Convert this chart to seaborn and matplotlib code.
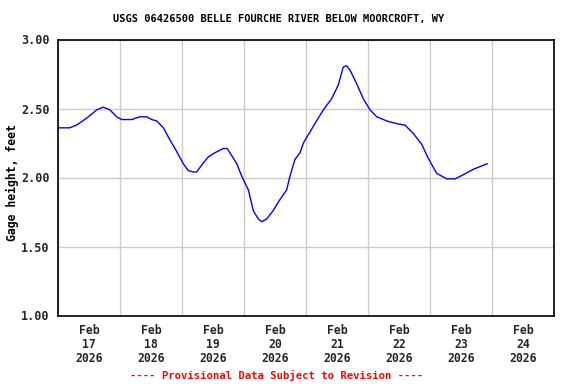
import numpy as np
import pandas as pd
import matplotlib
matplotlib.use("Agg")
import matplotlib.pyplot as plt
import matplotlib.dates as mdates
import matplotlib.ticker as mticker
import seaborn as sns

# Hours after 2026-02-17 00:00 and gage height (feet)
hours = [0.0, 4.5, 7.2, 11.1, 15.0, 17.5, 20.1, 22.7, 24.7, 28.5, 31.7, 34.3, 36.3, 38.2,
         40.8, 43.4, 45.9, 48.5, 50.4, 52.4, 53.7, 55.6, 58.2, 60.8, 64.0, 65.5, 67.2,
         69.2, 71.1, 73.7, 75.6, 77.5, 78.9, 80.8, 83.3, 85.9, 88.5, 89.8, 91.7, 93.7,
         95.0, 98.8, 102.7, 105.9, 108.5, 110.4, 111.7, 113.0, 115.6, 118.2, 120.8,
         123.4, 127.2, 131.1, 134.3, 137.5, 140.8, 143.3, 146.6, 150.5, 153.7, 156.9,
         160.8, 166.2]
gage_ft = [2.36, 2.36, 2.38, 2.43, 2.49, 2.51, 2.49, 2.44, 2.42, 2.42, 2.44, 2.44, 2.42, 2.41,
           2.36, 2.27, 2.19, 2.10, 2.05, 2.04, 2.04, 2.09, 2.15, 2.18, 2.21, 2.21, 2.16,
           2.10, 2.01, 1.91, 1.76, 1.70, 1.68, 1.70, 1.76, 1.84, 1.91, 2.01, 2.13, 2.18,
           2.25, 2.37, 2.49, 2.57, 2.67, 2.80, 2.81, 2.78, 2.68, 2.57, 2.49,
           2.44, 2.41, 2.39, 2.38, 2.32, 2.24, 2.14, 2.03, 1.99, 1.99, 2.02,
           2.06, 2.10]
y_ticks = [1.00, 1.50, 2.00, 2.50, 3.00]
day_labels = ["Feb\n17\n2026", "Feb\n18\n2026", "Feb\n19\n2026", "Feb\n20\n2026",
              "Feb\n21\n2026", "Feb\n22\n2026", "Feb\n23\n2026", "Feb\n24\n2026"]
title = "USGS 06426500 BELLE FOURCHE RIVER BELOW MOORCROFT, WY"
ylabel = "Gage height, feet"
footer = "---- Provisional Data Subject to Revision ----"

base = pd.Timestamp("2026-02-17 00:00")
df = pd.DataFrame({"time": base + pd.to_timedelta(hours, unit="h"), "gage": gage_ft})

sns.set_theme(style="white")
plt.rcParams["font.family"] = ["DejaVu Sans Mono"]

fig = plt.figure(figsize=(5.76, 3.84), dpi=100)
ax = fig.add_axes([58/576, 1-315.5/384, 496/576, 276/384])

sns.lineplot(data=df, x="time", y="gage", ax=ax, color="#0000ff", linewidth=1.0)

ax.set_xlim(base, base + pd.Timedelta(days=8))
ax.set_ylim(1.0, 3.0)

midnights = [base + pd.Timedelta(days=i) for i in range(9)]
noons = [base + pd.Timedelta(days=i, hours=12) for i in range(8)]
ax.xaxis.set_major_locator(mticker.FixedLocator(mdates.date2num(midnights)))
ax.xaxis.set_major_formatter(mticker.NullFormatter())
ax.xaxis.set_minor_locator(mticker.FixedLocator(mdates.date2num(noons)))
ax.xaxis.set_minor_formatter(mticker.FixedFormatter(day_labels))
ax.set_yticks(y_ticks)
ax.yaxis.set_major_formatter(mticker.FormatStrFormatter("%.2f"))

ax.tick_params(axis="x", which="both", length=0, pad=6)
ax.tick_params(axis="x", which="minor", labelsize=8.3)
ax.tick_params(axis="y", length=0, pad=6, labelsize=8.5)
for lab in ax.get_xticklabels(minor=True):
    lab.set_fontweight("bold")
    lab.set_linespacing(1.1)
for lab in ax.get_yticklabels():
    lab.set_fontweight("bold")

ax.grid(True, which="major", color="#cccccc", linewidth=1.0)
ax.set_axisbelow(True)
for s in ax.spines.values():
    s.set_color("black")
    s.set_linewidth(1.2)

ax.set_xlabel("")
ax.set_ylabel(ylabel, fontsize=8.3, fontweight="bold", color="black", va="center")
ax.yaxis.set_label_coords((12-58)/496, (315.5-183)/276)

fig.text(278.5/576, 1-19/384, title, ha="center", va="center",
         fontsize=7.5, fontweight="bold", color="black")
fig.text(277/576, 1-375/384, footer, ha="center", va="center",
         fontsize=7.7, fontweight="bold", color="#ff0000")

fig.savefig("out.png", dpi=100, facecolor="white")
